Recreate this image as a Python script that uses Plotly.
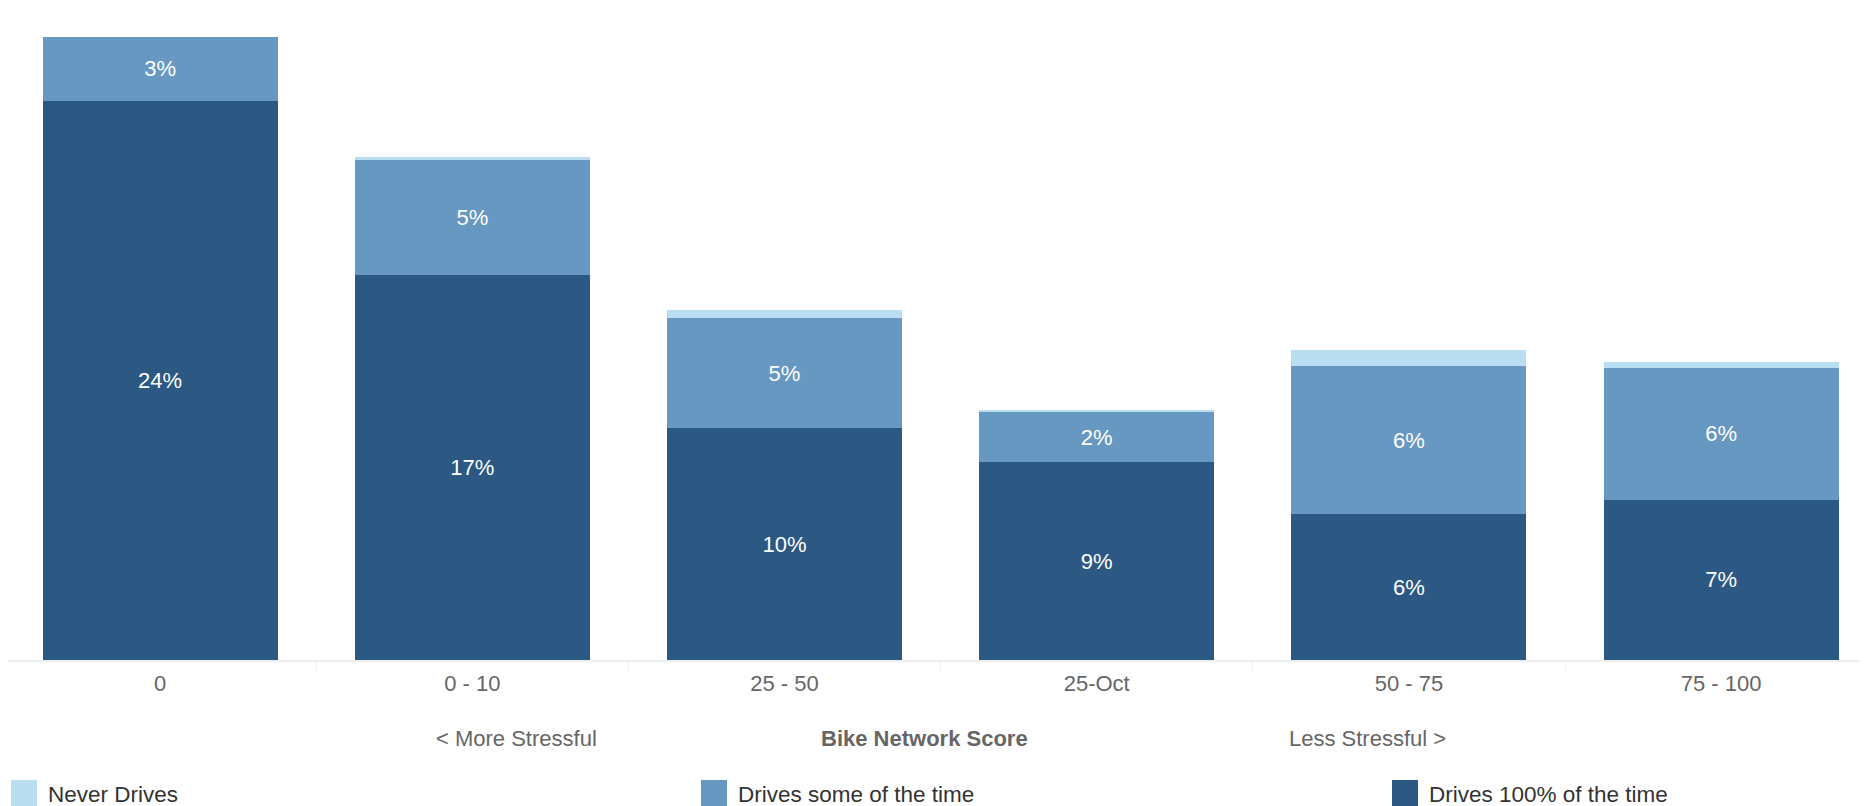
import plotly.graph_objects as go

categories = ["0", "0 - 10", "25 - 50", "25-Oct", "50 - 75", "75 - 100"]
drives_all = [0.241, 0.166, 0.100, 0.0853, 0.0629, 0.069]
drives_some = [0.0276, 0.0496, 0.0474, 0.0216, 0.0638, 0.0569]
never_drives = [0.0, 0.0011, 0.0034, 0.0009, 0.0069, 0.0026]

series_names = ["Never Drives", "Drives some of the time", "Drives 100% of the time"]
series_colors = ["#B9DEF1", "#6798C2", "#2C5884"]

# page has an 8px body margin; work in page pixels and convert
OFF = 8
W, H = 1868 - OFF, 806 - OFF
L, R, T, B = 0, 0, 0, 146
PW, PH = W - L - R, H - T - B
cat_w = 312.2
x0 = -0.5 + (OFF - 4) / cat_w
x_range = [x0, x0 + PW / cat_w]
px_per_unit = 2320.0
y_range = [0, PH / px_per_unit]

FONT = "Liberation Sans, Arial, sans-serif"


def px_x(px):
    return (px - OFF - L) / PW


def px_y(py):
    return (T + PH - (py - OFF)) / PH


fig = go.Figure()
fig.add_trace(go.Bar(
    x=categories, y=drives_all, name=series_names[2],
    marker=dict(color=series_colors[2], line=dict(width=0)),
    texttemplate="%{y:.0%}", textposition="inside", insidetextanchor="middle",
    textfont=dict(color="white", size=22, family=FONT), constraintext="none",
    showlegend=False,
))
fig.add_trace(go.Bar(
    x=categories, y=drives_some, name=series_names[1],
    marker=dict(color=series_colors[1], line=dict(width=0)),
    texttemplate="%{y:.0%}", textposition="inside", insidetextanchor="middle",
    textfont=dict(color="white", size=22, family=FONT), constraintext="none",
    showlegend=False,
))
fig.add_trace(go.Bar(
    x=categories, y=never_drives, name=series_names[0],
    marker=dict(color=series_colors[0], line=dict(width=0)),
    textposition="none", showlegend=False,
))

annotations = [
    dict(text="&lt; More Stressful", x=px_x(516), y=px_y(738), font=dict(size=22, color="#666666", family=FONT)),
    dict(text="<b>Bike Network Score</b>", x=px_x(924), y=px_y(738), font=dict(size=22, color="#666666", family=FONT)),
    dict(text="Less Stressful &gt;", x=px_x(1367), y=px_y(738), font=dict(size=22, color="#666666", family=FONT)),
]
for a in annotations:
    a.update(xref="paper", yref="paper", showarrow=False, xanchor="center", yanchor="middle")

shapes = []
legend_x = [11, 701, 1392]
for name, color, lx in zip(series_names, series_colors, legend_x):
    shapes.append(dict(type="rect", xref="paper", yref="paper",
                       x0=px_x(lx), x1=px_x(lx + 26), y0=px_y(780), y1=px_y(808),
                       fillcolor=color, line=dict(width=0), layer="above"))
    annotations.append(dict(text=name, xref="paper", yref="paper", showarrow=False,
                            x=px_x(lx + 35), y=px_y(794), xanchor="left", yanchor="middle",
                            font=dict(size=22.5, color="#333333", family=FONT)))

fig.update_layout(
    width=W, height=H, autosize=False,
    margin=dict(l=L, r=R, t=T, b=B, pad=0),
    barmode="stack", bargap=0.247,
    plot_bgcolor="white", paper_bgcolor="white",
    font=dict(family=FONT),
    annotations=annotations, shapes=shapes,
    xaxis=dict(
        range=x_range, showgrid=False, zeroline=False,
        showline=True, linecolor="#eeeeee", linewidth=2,
        ticks="outside", tickson="boundaries", ticklen=9, tickcolor="#eeeeee", tickwidth=1,
        tickfont=dict(size=22, color="#666666", family=FONT),
        ticklabelstandoff=3,
    ),
    yaxis=dict(
        range=y_range, showgrid=False, zeroline=False, showticklabels=False,
        showline=False,
    ),
)

fig.write_html("out.html", config={"displayModeBar": False})
